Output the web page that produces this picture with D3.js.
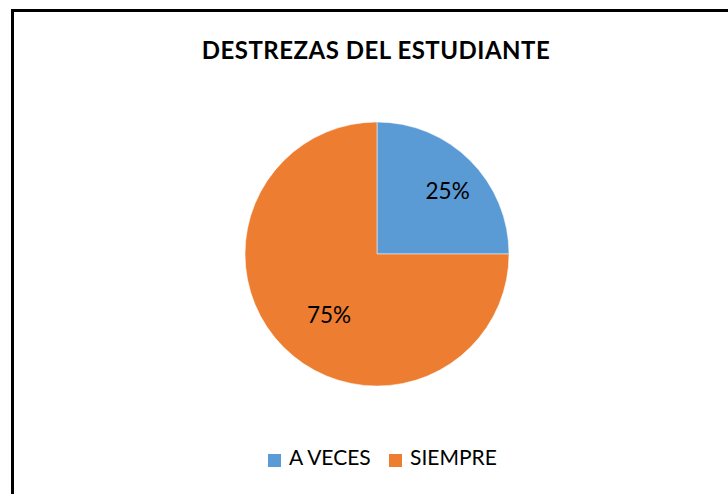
<!DOCTYPE html>
<html><head><meta charset="utf-8">
<script src="https://cdn.jsdelivr.net/npm/d3@7"></script>
<style>
html,body{margin:0;padding:0;background:#fff;}
svg{display:block;font-family:Lato,"Open Sans",sans-serif;}
</style></head>
<body>
<svg id="c" width="728" height="494"></svg>
<script>
const title = "DESTREZAS DEL ESTUDIANTE";
const categories = ["A VECES", "SIEMPRE"];
const values = [25, 75];
const colors = ["#5B9BD5", "#ED7D31"];

const svg = d3.select("#c");
svg.append("rect").attr("x", 12.5).attr("y", 10.5).attr("width", 760).attr("height", 520)
  .attr("fill", "#fff").attr("stroke", "#000").attr("stroke-width", 3);

svg.append("text").attr("x", 376).attr("y", 59).attr("text-anchor", "middle")
  .attr("font-weight", "bold").attr("font-size", 24).attr("letter-spacing", 0.5)
  .attr("fill", "#000").text(title);

const cx = 377, cy = 254, r = 132;
const pie = d3.pie().sort(null).value(d => d)(values);
const arc = d3.arc().innerRadius(0).outerRadius(r);
const g = svg.append("g").attr("transform", `translate(${cx},${cy})`);
g.selectAll("path").data(pie).join("path")
  .attr("d", arc).attr("fill", (d, i) => colors[i])
  .attr("stroke", "#fff").attr("stroke-width", 0.5);

// label placement (radius fraction, angle shift in degrees)
const labelPlace = [[0.72, 3], [0.59, -7]];
const total = d3.sum(values);
g.selectAll("text").data(pie).join("text")
  .attr("transform", (d, i) => {
    const a = (d.startAngle + d.endAngle) / 2 + labelPlace[i][1] * Math.PI / 180;
    const rr = r * labelPlace[i][0];
    return `translate(${rr * Math.sin(a)},${-rr * Math.cos(a)})`;
  })
  .attr("text-anchor", "middle").attr("dy", "0.36em")
  .attr("font-size", 22.5).attr("fill", "#000")
  .text(d => Math.round(d.data / total * 100) + "%");

const legend = svg.append("g").attr("transform", "translate(0,457)");
const lx = [268, 389];
categories.forEach((c, i) => {
  legend.append("rect").attr("x", lx[i]).attr("y", -3).attr("width", 13).attr("height", 13).attr("fill", colors[i]);
  legend.append("text").attr("x", lx[i] + 21).attr("y", 0).attr("dy", "0.36em")
    .attr("font-size", 21).attr("fill", "#000").text(c);
});
</script>
</body></html>
